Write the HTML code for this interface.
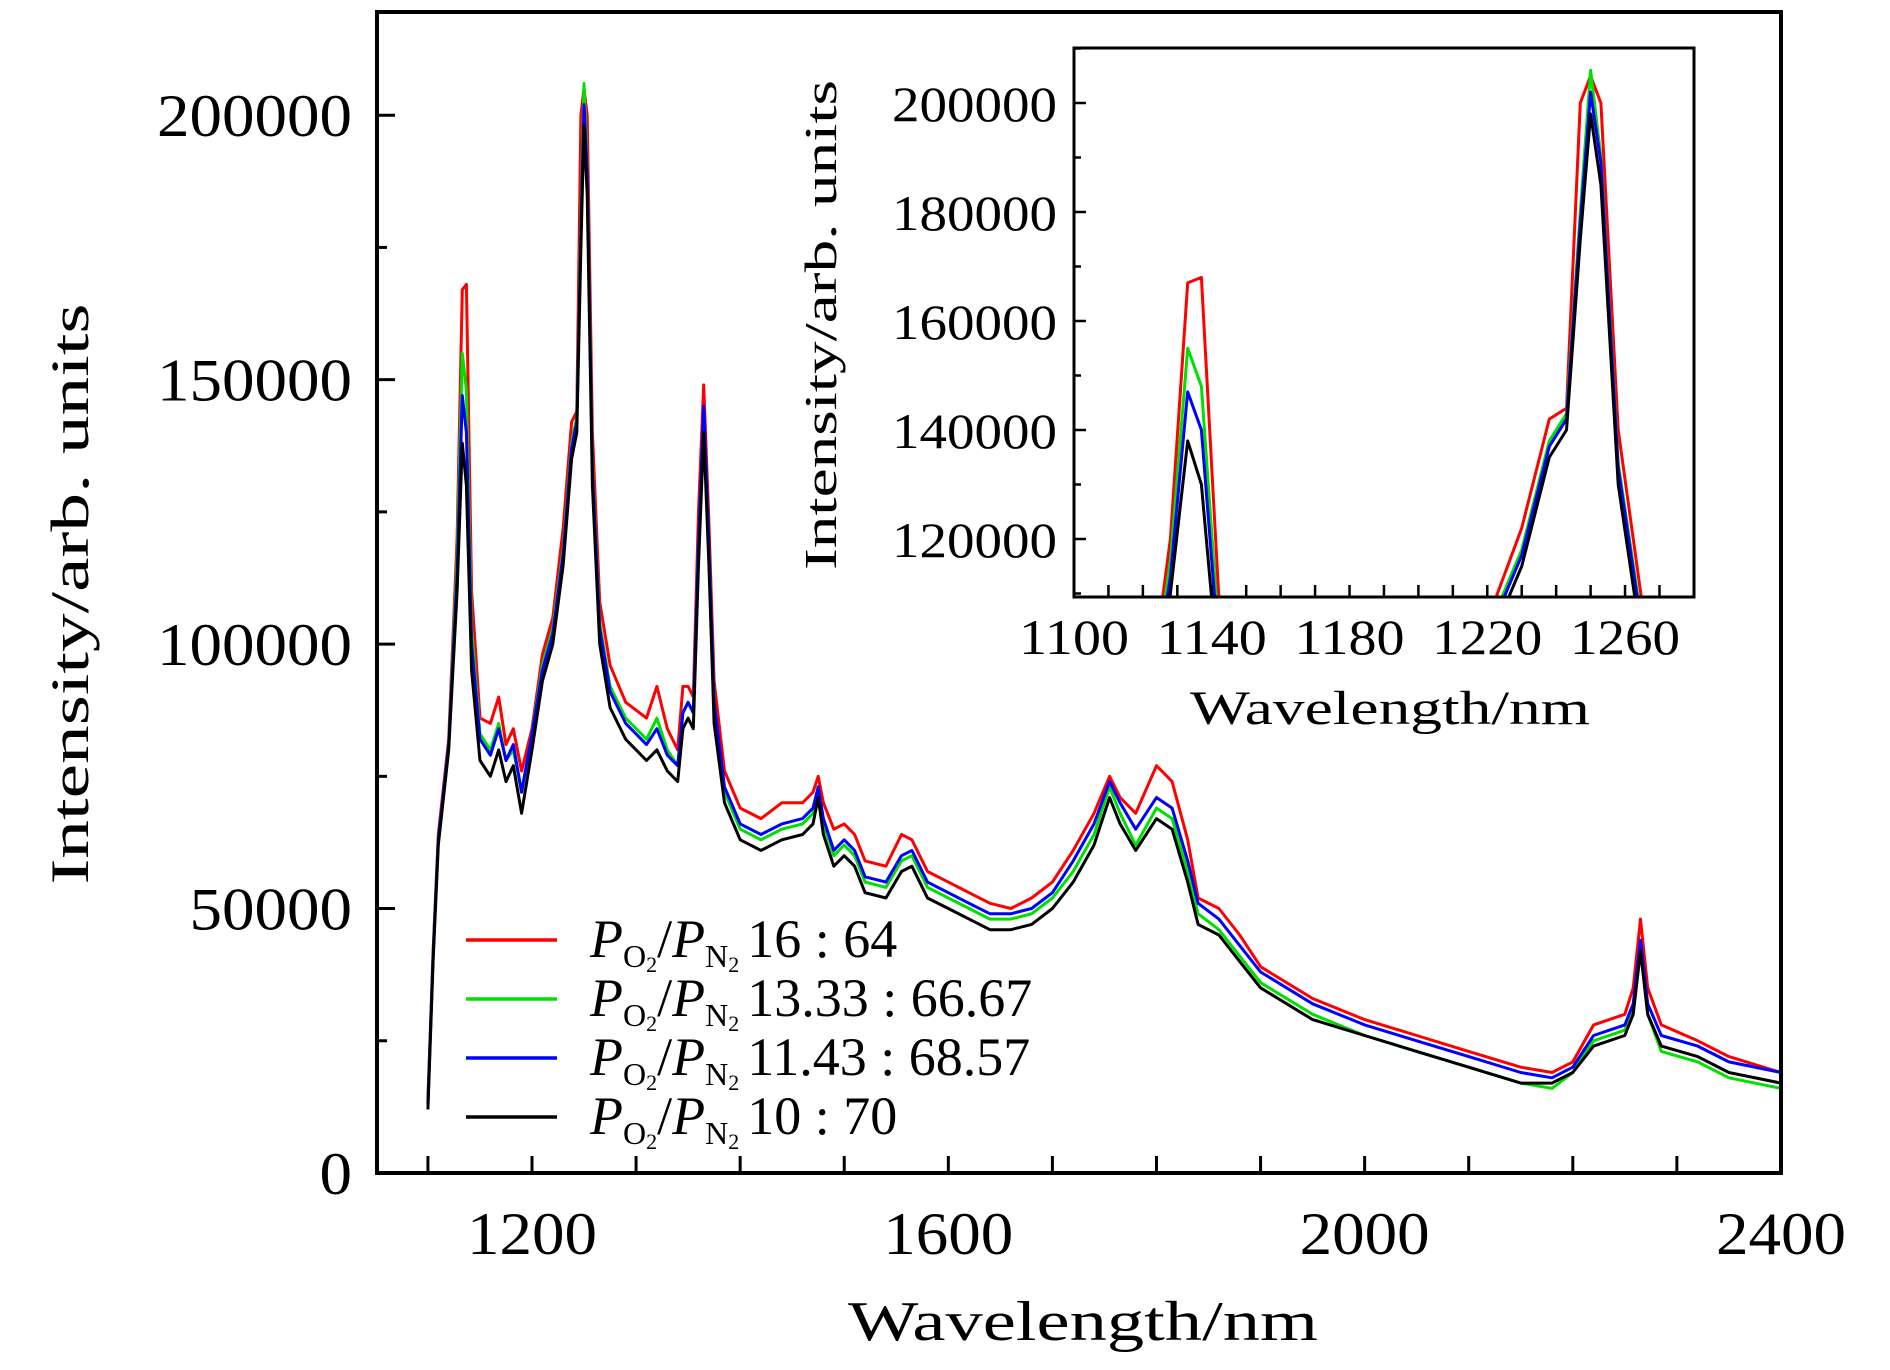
<!DOCTYPE html>
<html><head><meta charset="utf-8"><style>
html,body{margin:0;padding:0;background:#fff;}
svg{display:block;font-family:"Liberation Serif",serif;}
</style></head><body>
<svg id="chart" width="1890" height="1370" viewBox="0 0 1890 1370" xmlns="http://www.w3.org/2000/svg">
<defs><clipPath id="mainClip"><rect x="377" y="12" width="1404" height="1161"/></clipPath>
<clipPath id="insetClip"><rect x="1074" y="48" width="620" height="549"/></clipPath></defs>
<rect width="1890" height="1370" fill="#fff"/>
<g id="mainCurves" clip-path="url(#mainClip)"></g>
<rect x="377" y="12" width="1404" height="1161" fill="none" stroke="#000" stroke-width="4"/>
<g id="mainAxes"></g>
<text x="0" y="0" transform="translate(88,594) rotate(-90)" font-size="54" text-anchor="middle" textLength="581" lengthAdjust="spacingAndGlyphs">Intensity/arb. units</text>
<text x="1083" y="1340" font-size="56" text-anchor="middle" textLength="470" lengthAdjust="spacingAndGlyphs">Wavelength/nm</text>
<g id="legend"></g>
<rect x="1074" y="48" width="620" height="549" fill="#fff"/>
<g id="insetCurves" clip-path="url(#insetClip)"></g>
<rect x="1074" y="48" width="620" height="549" fill="none" stroke="#000" stroke-width="3"/>
<g id="insetAxes"></g>
<text x="0" y="0" transform="translate(836,325) rotate(-90)" font-size="46" text-anchor="middle" textLength="490" lengthAdjust="spacingAndGlyphs">Intensity/arb. units</text>
<text x="1390" y="724" font-size="48" text-anchor="middle" textLength="400" lengthAdjust="spacingAndGlyphs">Wavelength/nm</text>
</svg>
<script>
const wavelengths=[1100,1105,1110,1120,1128,1133,1137,1142,1150,1160,1168,1175,1182,1190,1200,1210,1220,1230,1238,1243,1247,1250,1253,1258,1265,1275,1290,1310,1320,1330,1340,1345,1350,1355,1360,1365,1370,1375,1385,1400,1420,1440,1460,1470,1475,1480,1490,1500,1510,1520,1540,1555,1565,1580,1600,1620,1640,1660,1680,1700,1720,1740,1755,1765,1780,1800,1815,1830,1840,1860,1880,1900,1950,2000,2050,2100,2150,2180,2200,2220,2250,2258,2265,2272,2285,2320,2350,2400];
const redK=[14,42,64,82,120,167,168,110,86,85,90,81,84,76,84,98,105,122,142,144,200,205,200,140,108,96,89,86,92,84,80,92,92,90,125,149,123,93,76,69,67,70,70,72,75,70,65,66,64,59,58,64,63,57,55,53,51,50,52,55,61,68,75,71,68,77,74,63,52,50,45,39,33,29,26,23,20,19,21,28,30,35,48,35,28,25,22,19];
const greenK=[13,41,63,81,116,155,148,103,83,80,85,78,80,72,83,96,103,118,138,143,180,206,190,134,104,92,86,82,86,80,77,87,89,87,119,144,119,89,72,65,63,65,66,68,73,66,60,62,60,55,54,59,60,54,52,50,48,48,49,52,57,64,73,68,62,69,67,57,49,46,41,36,30,26,23,20,17,16,19,25,27,31,43,30,23,21,18,16];
const blueK=[13,41,63,81,113,147,140,100,82,79,84,78,81,72,83,95,102,117,137,142,178,202,189,133,103,91,85,81,84,79,77,87,89,87,119,145,119,89,73,66,64,66,67,69,73,67,61,63,61,56,55,60,61,55,53,51,49,49,50,53,59,66,74,70,65,71,69,59,51,48,43,38,32,28,25,22,19,18,20,26,28,32,44,32,26,24,21,19];
const blackK=[12,40,62,80,110,138,130,95,78,75,80,74,77,68,80,93,100,115,135,140,175,198,185,130,100,88,82,78,80,76,74,84,86,84,115,140,115,85,70,63,61,63,64,66,71,64,58,60,58,53,52,57,58,52,50,48,46,46,47,50,55,62,71,66,61,67,65,55,47,45,40,35,29,26,23,20,17,17,19,24,26,30,42,30,24,22,19,17];
const mainYTicks=[0,50000,100000,150000,200000];
const mainXTicks=[1200,1600,2000,2400];
const insetYTicks=[120000,140000,160000,180000,200000];
const insetXTicks=[1100,1140,1180,1220,1260];
const legendLabels=["16 : 64","13.33 : 66.67","11.43 : 68.57","10 : 70"];

const NS="http://www.w3.org/2000/svg";
const mx=w=>532+(w-1200)*1.0408;
const my=v=>1173-v*0.005289;
const ix=w=>1074+(w-1100)*3.444;
const iy=v=>103+(200000-v)*0.00545;
function mk(tag,attrs,parent){const e=document.createElementNS(NS,tag);for(const k in attrs)e.setAttribute(k,attrs[k]);parent.appendChild(e);return e;}
const series=[{n:'red',c:'#ff0000',d:redK},{n:'green',c:'#00e000',d:greenK},{n:'blue',c:'#0000ff',d:blueK},{n:'black',c:'#000000',d:blackK}];
const mainG=document.getElementById('mainCurves'),insG=document.getElementById('insetCurves');
series.forEach(s=>{
  let p1='',p2='';
  wavelengths.forEach((w,i)=>{const v=s.d[i]*1000;p1+=(i?'L':'M')+mx(w).toFixed(1)+' '+my(v).toFixed(1);p2+=(i?'L':'M')+ix(w).toFixed(1)+' '+iy(v).toFixed(1);});
  const a=mk('path',{d:p1,fill:'none',stroke:s.c,'stroke-width':3,'stroke-linejoin':'round'},mainG);
  
  
  const b=mk('path',{d:p2,fill:'none',stroke:s.c,'stroke-width':3,'stroke-linejoin':'round'},insG);
  
  
});
const ma=document.getElementById('mainAxes');
for(let w=1100;w<=2300;w+=100){const t=mk('line',{x1:mx(w),x2:mx(w),y1:1173,y2:1156,stroke:'#000','stroke-width':3},ma);}
for(let v=25000;v<=225000;v+=25000){const len=v%50000===0?18:10;const t=mk('line',{x1:377,x2:377+len,y1:my(v),y2:my(v),stroke:'#000','stroke-width':3},ma);}
mainYTicks.forEach(v=>{const s=String(v);const t=mk('text',{x:352,y:my(v)+21,'font-size':60,'text-anchor':'end',textLength:s.length*32.5,lengthAdjust:'spacingAndGlyphs'},ma);t.textContent=s;});
mainXTicks.forEach(v=>{const t=mk('text',{x:mx(v),y:1254,'font-size':60,'text-anchor':'middle',textLength:130,lengthAdjust:'spacingAndGlyphs'},ma);t.textContent=String(v);});
const ia=document.getElementById('insetAxes');
for(let w=1110;w<=1270;w+=10){const t=mk('line',{x1:ix(w),x2:ix(w),y1:597,y2:585,stroke:'#000','stroke-width':2.5},ia);}
for(let v=110000;v<=210000;v+=10000){const len=v%20000===0?12:7;const t=mk('line',{x1:1074,x2:1074+len,y1:iy(v),y2:iy(v),stroke:'#000','stroke-width':2.5},ia);}
insetYTicks.forEach(v=>{const t=mk('text',{x:1057,y:iy(v)+18,'font-size':50,'text-anchor':'end',textLength:165,lengthAdjust:'spacingAndGlyphs'},ia);t.textContent=String(v);});
insetXTicks.forEach(v=>{const t=mk('text',{x:ix(v),y:654,'font-size':50,'text-anchor':'middle',textLength:110,lengthAdjust:'spacingAndGlyphs'},ia);t.textContent=String(v);});
const lg=document.getElementById('legend');
series.forEach((s,i)=>{
  const y=940+i*59;
  const l=mk('line',{x1:466,x2:557,y1:y,y2:y,stroke:s.c,'stroke-width':3.5},lg);
  
  
  const t=mk('text',{x:590,y:y+17,'font-size':54},lg);
  
  
  t.innerHTML='<tspan font-style="italic">P</tspan><tspan font-size="32" dy="10">O</tspan><tspan font-size="22" dy="5">2</tspan><tspan dy="-15">/</tspan><tspan font-style="italic">P</tspan><tspan font-size="32" dy="10">N</tspan><tspan font-size="22" dy="5">2</tspan><tspan dy="-15" dx="8">'+legendLabels[i]+'</tspan>';
});
</script>
</body></html>
